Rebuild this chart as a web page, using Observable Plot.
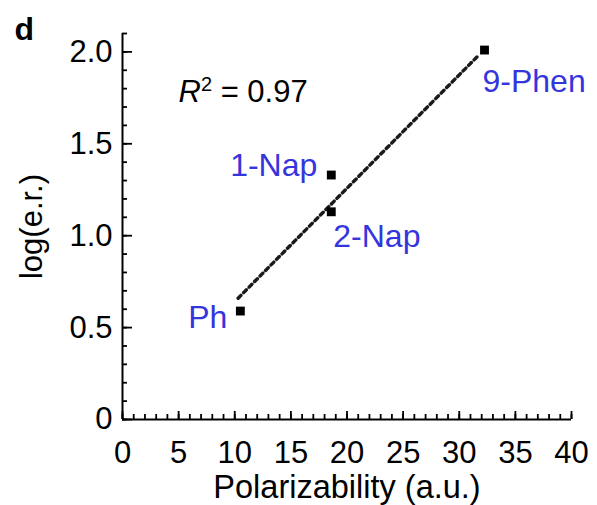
<!DOCTYPE html>
<html>
<head>
<meta charset="utf-8">
<script src="https://cdn.jsdelivr.net/npm/d3@7"></script>
<script src="https://cdn.jsdelivr.net/npm/@observablehq/plot@0.6"></script>
<style>
  body { margin: 0; background: #fff; }
  #chart { position: relative; width: 597px; height: 505px; }
</style>
</head>
<body>
<div id="chart"></div>
<script>
// ---- data ----
const compounds = ["Ph", "1-Nap", "2-Nap", "9-Phen"];
const polarizability = [10.5, 18.6, 18.6, 32.25];
const logER = [0.59, 1.33, 1.13, 2.01];
const fitX = [10.3, 31.7];
const fitY = [0.66, 1.98];
const xTicks = [0, 5, 10, 15, 20, 25, 30, 35, 40];
const yTicks = [0, 0.5, 1.0, 1.5, 2.0];
const xMinorTicks = d3.range(0, 41, 1);
const yMinorTicks = d3.range(0, 22, 1).map(d => d / 10);
const xLabel = "Polarizability (a.u.)";
const yLabel = "log(e.r.)";
const r2Label = "R2 = 0.97";
const panelLabel = "d";

// ---- layout ----
const W = 597, H = 505, mL = 122, mR = 26, mT = 33, mB = 86;
const frameW = W - mL - mR, frameH = H - mT - mB;
const FONT = "'Liberation Sans', Arial, Helvetica, sans-serif";
const BLUE = "#3535de";

const points = compounds.map((name, i) => ({name, x: polarizability[i], y: logER[i]}));
const fit = fitX.map((x, i) => ({x, y: fitY[i]}));

const labelStyle = {
  "Ph":     {textAnchor: "end",   dx: -13, dy: 7},
  "1-Nap":  {textAnchor: "end",   dx: -14, dy: -9},
  "2-Nap":  {textAnchor: "start", dx: 2,   dy: 25},
  "9-Phen": {textAnchor: "start", dx: -2,  dy: 32}
};

const labelMarks = compounds.map(name =>
  Plot.text(points.filter(p => p.name === name), {
    x: "x", y: "y", text: "name", fill: BLUE, fontSize: 32,
    ...labelStyle[name]
  })
);

const chart = Plot.plot({
  width: W, height: H,
  marginLeft: mL, marginRight: mR, marginTop: mT, marginBottom: mB,
  style: {fontFamily: FONT, fontSize: "31px", color: "black", background: "white"},
  x: {domain: [0, 40]},
  y: {domain: [0, 2.1]},
  marks: [
    // axes lines
    Plot.ruleX([0], {strokeWidth: 2}),
    Plot.ruleY([0], {strokeWidth: 2}),
    // inward ticks
    Plot.tickX(xMinorTicks, {x: d => d, insetTop: frameH - 5, strokeWidth: 1.8}),
    Plot.tickX(xTicks, {x: d => d, insetTop: frameH - 8, strokeWidth: 1.8}),
    Plot.tickY(yMinorTicks, {y: d => d, insetRight: frameW - 5, strokeWidth: 1.8}),
    Plot.tickY(yTicks, {y: d => d, insetRight: frameW - 10, strokeWidth: 1.8}),
    // tick labels
    Plot.axisX({ticks: xTicks, tickSize: 0, tickPadding: 21, fontSize: 31, label: null}),
    // x title
    Plot.axisX({ticks: [], tickSize: 0, fontSize: 32.5,
      label: xLabel, labelAnchor: "center", labelOffset: 78, labelArrow: "none"}),
    Plot.axisY({ticks: yTicks, tickSize: 0, tickPadding: 10, fontSize: 31,
      tickFormat: d => d === 0 ? "0" : d.toFixed(1),
      label: yLabel, labelAnchor: "center", labelOffset: 103, labelArrow: "none"}),
    // fit line
    Plot.line(fit, {x: "x", y: "y", stroke: "#1a1a1a", strokeWidth: 3.4, strokeDasharray: "4,3.8"}),
    // points
    Plot.dot(points, {x: "x", y: "y", symbol: "square", r: 5, fill: "black", stroke: "none"}),
    ...labelMarks,
    // R^2 annotation
    Plot.text([r2Label], {frameAnchor: "top-left", text: d => d, dx: 56, dy: 46,
      textAnchor: "start", fontSize: 31}),
    // panel label
    Plot.text([panelLabel], {frameAnchor: "top-left", text: d => d, dx: -108, dy: -16,
      textAnchor: "start", fontSize: 32, fontWeight: "bold"})
  ]
});

document.getElementById("chart").appendChild(chart);

// Rich text for R^2: italic R, superscript 2
d3.select(chart).selectAll("text").filter(function() {
  return this.textContent === r2Label;
}).each(function() {
  const t = d3.select(this);
  t.text(null);
  t.append("tspan").attr("font-style", "italic").text("R");
  t.append("tspan").attr("font-size", 20).attr("dy", -11).text("2");
  t.append("tspan").attr("dy", 11).text(" = 0.97");
});
</script>
</body>
</html>
